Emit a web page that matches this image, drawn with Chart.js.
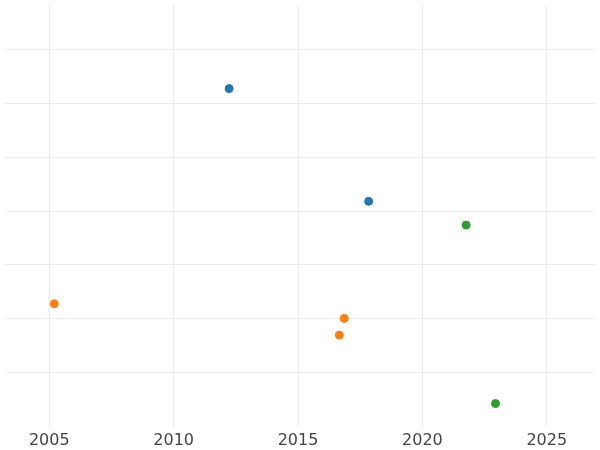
<!DOCTYPE html>
<html>
<head>
<meta charset="utf-8">
<script src="https://cdn.jsdelivr.net/npm/chart.js@4/dist/chart.umd.min.js"></script>
<style>
  html, body { margin: 0; padding: 0; background: #fff; }
  #wrap { width: 600px; height: 450px; }
</style>
</head>
<body>
<div id="wrap"><canvas id="c"></canvas></div>
<script>
  // series values
  var blueX = [2012.23, 2017.84];
  var blueY = [6.27, 4.18];
  var orangeX = [2005.2, 2016.86, 2016.66];
  var orangeY = [2.28, 2.01, 1.70];
  var greenX = [2021.76, 2022.94];
  var greenY = [3.74, 0.43];
  var xTicks = [2005, 2010, 2015, 2020, 2025];

  function pts(xs, ys) {
    return xs.map(function (x, i) { return { x: x, y: ys[i] }; });
  }
  function series(xs, ys, color) {
    return { data: pts(xs, ys), backgroundColor: color, borderColor: color, pointRadius: 4, pointHoverRadius: 4 };
  }

  new Chart(document.getElementById('c').getContext('2d'), {
    type: 'scatter',
    data: {
      datasets: [
        series(blueX, blueY, '#1f77b4'),
        series(orangeX, orangeY, '#ff7f0e'),
        series(greenX, greenY, '#2ca02c'),
      ],
    },
    options: {
      responsive: true, maintainAspectRatio: false, animation: false,
      layout: { padding: { left: -5, right: -5, top: -5, bottom: -4 } },
      plugins: { legend: { display: false }, tooltip: { enabled: false } },
      scales: {
        x: {
          type: 'linear', min: 2003.22, max: 2026.94,
          afterBuildTicks: function (axis) { axis.ticks = xTicks.map(function (v) { return { value: v }; }); },
          ticks: {
            color: '#444', font: { family: 'DejaVu Sans', size: 16 }, padding: 4,
            callback: function (v) { return String(v); },
          },
          grid: { color: '#ebebeb', drawTicks: false },
          border: { display: false },
        },
        y: {
          min: 0, max: 7.82,
          afterBuildTicks: function (axis) {
            axis.ticks = [1, 2, 3, 4, 5, 6, 7].map(function (v) { return { value: v }; });
          },
          ticks: { display: false },
          grid: { color: '#ebebeb', drawTicks: false },
          border: { display: false },
        },
      },
    },
  });
</script>
</body>
</html>
